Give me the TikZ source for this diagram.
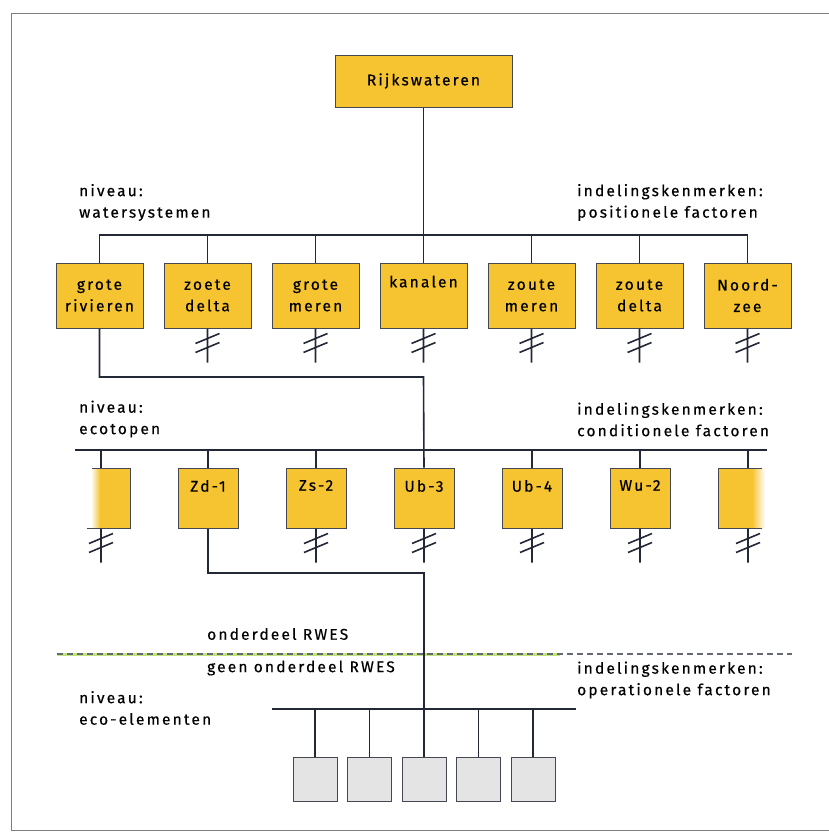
\documentclass[tikz,border=0pt]{standalone}
\usepackage{fontspec}
\setmainfont{Fira Sans}[LetterSpace=14, FakeBold=0.4]
\usetikzlibrary{positioning}
\definecolor{boxyellow}{RGB}{245,196,48}
\definecolor{linedark}{RGB}{35,40,55}
\definecolor{framegray}{RGB}{125,125,125}
\definecolor{rwesgreen}{RGB}{170,215,70}
\definecolor{elemgray}{RGB}{228,228,228}
\newcommand{\rwfont}{\fontsize{15.5}{21.5}\selectfont}
\newcommand{\breakstub}[1]{\draw[conn] (#1) -- ++(0,34) (#1) ++(-12,15) -- ++(24,-10) (#1) ++(-12,24) -- ++(24,-10);}
\tikzset{
conn/.style={draw=linedark, line width=1.6pt}, boxline/.style={draw=linedark!85, line width=1pt},
wsbox/.style={boxline, fill=boxyellow, minimum width=87pt, minimum height=65pt, inner sep=0, align=center},
ecobox/.style={boxline, fill=boxyellow, minimum width=60pt, minimum height=60pt, inner sep=0},
eclabel/.style={anchor=north, yshift=-9pt},
elbox/.style={boxline, fill=elemgray, minimum width=44pt, minimum height=44pt, inner sep=0},
lvl/.style={anchor=west, align=left, inner sep=0}, frameline/.style={draw=framegray, line width=0.9pt}}
\begin{document}
\begin{tikzpicture}[x=1pt, y=-1pt, every node/.style={font=\rwfont}]
\useasboundingbox (0,0) rectangle (829,833);
\draw[frameline] (11,830) -- (11,13) -- (829,13);
\draw[frameline] (11,830) -- (829,830);

\node [wsbox, minimum width=177pt, minimum height=52pt] at (423.5,81) (rws) {Rijkswateren};

% watersystemen
\coordinate (wsbus) at (0,235);
\foreach \wlabel [count=\j, evaluate={\jx=108*\j-8.5;}] in {{grote\\rivieren}, {zoete\\delta}, {grote\\meren}, {kanalen\\\strut}, {zoute\\meren}, {zoute\\delta}, {Noord-\\zee}}{
      \node [wsbox] at (\jx, 295.5) (ws-\j) {\wlabel};
      \ifnum\j>1
          \breakstub{ws-\j.south}
          \draw [conn] (ws-\j.north) -- (ws-\j.north |- wsbus);
      \fi
}
\draw [conn] (ws-1.north) -- (ws-1.north |- wsbus) -- (ws-7.north |- wsbus) -- (ws-7.north);
\draw [conn] (rws.south) -- (ws-4.north);
\node [lvl] at (79,202.5) (lv-ws) {niveau:\\watersystemen};
\node [lvl] at (577,202.5) (ik-ws) {indelingskenmerken:\\positionele factoren};

% ecotopen
\coordinate (ecbus-l) at (75,450);
\coordinate (ecbus-r) at (767,450);
\node [ecobox, draw=none, fill=none, minimum width=58pt] at (101,498) (eco-1) {};
\foreach \elabel [count=\j, evaluate={\jx=int(108*\j+100);}] in {Zd-1, Zs-2, Ub-3, Ub-4, Wu-2}{
      \node [ecobox, label={[eclabel]north:\elabel}] at (\jx, 498) (eco-\the\numexpr\j+1\relax) {};
}
\node [ecobox, draw=none, fill=none] at (748,498) (eco-7) {};
\fill [boxyellow] (100,468) rectangle (130,528);
\shade [left color=white, right color=boxyellow] (91,468) rectangle (100,528);
\draw [boxline] (92,468) -- (130,468) -- (130,528) -- (87,528);
\fill [boxyellow] (718,468) rectangle (752,528);
\shade [left color=boxyellow, right color=white] (752,468) rectangle (765,528);
\draw [boxline] (762,468) -- (718,468) -- (718,528) -- (762,528);
\draw [conn] (ecbus-l) -- (ecbus-r);
\foreach \j in {1,...,7}{
      \ifnum\j=4\else
          \draw [conn] (eco-\j.north) -- (eco-\j.north |- ecbus-l);
      \fi
      \ifnum\j=2\else
          \breakstub{eco-\j.south}
      \fi
}
\coordinate (ws-bend) at (423.5,377);
\draw [conn] (ws-1.south) |- (ws-bend) -- (eco-4.north);
\node [lvl] at (79,419) (lv-ec) {niveau:\\ecotopen};
\node [lvl] at (577,419.5) (ik-ec) {indelingskenmerken:\\conditionele factoren};

% grens RWES
\coordinate (rwes-l) at (57,654);
\coordinate (rwes-r) at (792,654);
\draw [rwesgreen, line width=3pt, opacity=0.7] (rwes-l) -- (560,654);
\draw [linedark!70, line width=1.2pt, dash pattern=on 6pt off 4pt] (rwes-l) -- (rwes-r);
\node [lvl] at (207,634) (rwes-in) {onderdeel RWES};
\node [lvl] at (207,668) (rwes-out) {geen onderdeel RWES};

% eco-elementen
\coordinate (elbus-l) at (272,709);
\coordinate (elbus-r) at (576,709);
\foreach \j in {1,...,5}{
      \node [elbox] at (424+54.5*\j-163.5, 779) (el-\j) {};
      \ifnum\j=3\else
          \draw [conn] (el-\j.north) -- (el-\j.north |- elbus-l);
      \fi
}
\draw [conn] (elbus-l) -- (elbus-r);
\coordinate (ec-bend) at (424,573);
\draw [conn] (eco-2.south) |- (ec-bend) -- (el-3.north);
\node [lvl] at (79,708) (lv-el) {niveau:\\eco-elementen};
\node [lvl] at (577,680) (ik-el) {indelingskenmerken:\\operationele factoren};
\end{tikzpicture}
\end{document}
